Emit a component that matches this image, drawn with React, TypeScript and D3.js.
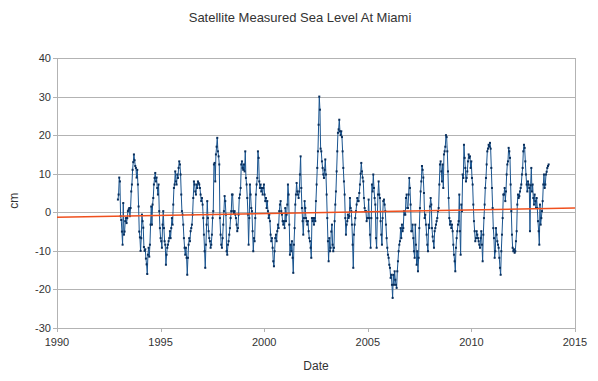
import React, { useEffect, useRef } from "react";
import * as d3 from "d3";

const TITLE = "Satellite Measured Sea Level At Miami";
const X_LABEL = "Date";
const Y_LABEL = "cm";
const X_TICKS = [1990, 1995, 2000, 2005, 2010, 2015];
const Y_TICKS = [-30, -20, -10, 0, 10, 20, 30, 40];
const START_YEAR = 1992.94;
const STEP_YEARS = 0.03218;
const TREND = [
  { year: 1990, value: -1.3 },
  { year: 2015, value: 1.1 },
];

const SEA_LEVEL_CM = [
  // 1993 - 1994.6
  3.3, 4.6, 9, 8, -1, -2, -5, -8.4, 2.4, -5.8, -5, -2.3, -1.5, -2.8, -1.5, 0.3, 0.7, 1.1, -1, 1.1,
  5.4, 7.2, 11, 13, 15, 13.5, 12, 11.5, 9, 11, 7.2, 1.5, -5, -6.5, -10, -6.7, -0.6, -2.3, -4, -9,
  -10, -9.6, -12, -13.5, -16, -11, -9.2, -11.5, -8.4, -3.2, 1.5,
  // 1994.6 - 1996.7
  -3.2, 2, 3.7, 7.2, 8.9, 10.2, 8, 9, 6.3, 4.6, 7.2, 0.3, -4.1, -6.7, -7.5, -9.2, -3.2, 0.3, -4.1, -7.5,
  -8.4, -13.6, -11, -9.2, -8.4, -7.5, -6.7, -4.9, -6.7, -4.1, -1.5, -3.2, 2, 6.3, 7.2, 10.6, 8, 7.2, 9.8, 8.9,
  11.5, 13.2, 12.4, 9.8, 4.6, 0.3, -0.6, -3.2, -6.7, -9.2, -11, -9.2, -11.8, -16.2, -11.8, -8.4, -6.7, -7.5, -4.9, -4.1,
  -3.2, -0.6, 3.7, 8, 7.2, 5.4,
  // 1996.7 - 1998.8
  4.6, 7.2, 6.3, 8, 7.6, 7.2, 6.3, 4.6, 2.9, 3.7, 2, -1.5, -5.8, -10.1, -14.4, -8.4, -3.2, 2.9, -1.5, -4.9,
  -6.7, -7.5, -9.2, -8.4, -5.8, -1.5, 0.3, 12.4, 12.8, 8, 15, 17, 19.3, 15.8, 14.5, 12.4, -1.5, -5.8, -8.4, -9.2,
  -6.7, -3.2, 0.3, 4.2, 2.9, -0.6, -10.1, -11, -8.4, -7.5, -5.8, -4.1, -1.5, 0.3, 4.6, 4.6, 0.3, -0.2, 0.3, -0.6,
  -1.5, -3.2, -4.9, -4.1, -0.6, 3.7,
  // 1998.8 - 2000.9
  4.6, 6.3, 12.4, 13.2, 11.5, 11, 12.4, 10.6, 15.8, 8.9, 7.2, 3.7, -0.6, -8.4, -1.5, 7.2, 4.6, 1.1, 0.3, -4.9,
  -10.1, -6.7, -7.5, -1.5, 4.6, 7.2, 8.9, 15.8, 14.1, 8, 6.3, 7.2, 5.4, 6.3, 4.6, 6.3, 7.2, 4.6, 2.9, 3.7,
  1.1, 2.9, 0.3, -1.5, -0.6, -2.3, -5.8, -7.5, -6.7, -9.2, -12.7, -14, -10.1, -6.7, -5.8, -7.5, -4.9, -3.2, -4.1, 0.3,
  2, 2.9, 0.3, -0.6, -2.3, -3.2,
  // 2001 - 2003.1
  -2.3, -4.1, 1.1, -2.3, -0.6, 2, 7.2, 4.6, -3.2, -11, -8.4, -10.1, -7.5, -11.8, -15.7, -8.4, -4.1, 2, 4.6, 7.6,
  5.4, 4.6, 3.7, 5.4, 9.8, 14.5, 6.3, 1.1, -2.3, -5.8, -1.5, 2.9, 1.1, -1.5, -2.3, -3.2, -2.3, -4.9, -6.7, -7.5,
  -9.2, -11.8, -1.5, -2.3, -1.5, -3.2, -1.5, -2.3, 2.9, 7.2, 11.5, 15.8, 22.7, 30, 26.6, 16.5, 15.8, 13.2, 11.5, 9.8,
  8.9, 11, 13.7, 9.8, 4.6, -1.5,
  // 2003.1 - 2005.2
  -7.5, -12.7, -6.7, -10.1, -9.2, -5, -3.2, -8.4, -10.1, -9.2, -2.3, 2, 5.4, 10.6, 15.8, 20.6, 21.5, 24, 21, 20,
  21, 19.5, 15.8, 11.5, 8, 4.6, -1.5, -5.8, -3.2, -2.3, -0.6, -1.5, -1, 3.7, 1.1, 0.3, -3.2, -8.4, -14.4, -5.8,
  -3.2, -1.5, 0.3, 2, 3.7, 2.9, 2.9, 5, 7.2, 10, 12.8, 10.6, 9, 8, 3.7, 1.1, 0.3, 0.3, -2.3, -1.5,
  -1.5, 3.3, -1.5, -5.8, -9.2, -1.5,
  // 2005.2 - 2007.3
  7.2, 5.4, 9.8, 6.3, 3.7, 2, -6.7, -9.2, -1.5, 4.6, 8, 4.6, 3.7, -2.3, -5.8, -8.4, -1.5, 2.9, 3.3, 2,
  0.3, -3.2, -6.7, -9.2, -11, -11.8, -13.6, -14.4, -17, -16.2, -18.8, -22.2, -16.2, -18.8, -15.3, -17.5, -18.8, -19.6, -15.3, -12.7,
  -10.1, -8.4, -7.5, -4.1, -6.7, -3.2, -4.9, -4.1, 0.3, -0.6, -0.6, 3.7, 4.6, 1.1, 1.1, 4.6, 8.9, 6.3, 2, -4.9,
  -4.9, -3.2, -6.7, -10.1, -11.8, -3.2,
  // 2007.3 - 2009.4
  -8.4, -13.6, -10.1, -15.3, -11.8, -4.1, 1.1, 5.4, 8, 12, 11, 9, 5, -1.5, -0.6, -3.2, -5.8, -8.4, -10.1, -3.2,
  -4.1, 1.5, 3.7, 2, -4.1, -6.3, -7.5, -9.2, -4.9, -4.1, -3.2, -2.3, -1.5, 0.3, 1.1, 7.2, 12.4, 13.2, 10.6, 8,
  12.4, 6.3, 15, 15.8, 17, 20, 19.5, 15.8, 10.6, 3.7, -1.5, -3.2, -2.3, -4.1, -3.2, -4.9, -8.4, -11, -12.7, -15.3,
  -9.2, -6.7, -4.9, -3.2, -2.3, 4.6,
  // 2009.4 - 2011.5
  -4.9, -11, 2, 0.3, 9.8, 8.9, 17.5, 14.1, 11.5, 8, 8.9, 10.6, 13.2, 15, 14.1, 14.5, 11.5, 13.2, 8.9, 7.2,
  2, -2.3, -4.9, -7.5, -6.7, -4.9, -5.8, -6.7, -7.5, -8.4, -9.2, -6.7, -4.9, -8.4, -12.7, -5.8, -1.5, 2, 6.3, 8.9,
  12.4, 15.8, 16.5, 17.5, 17, 18, 16.5, 11.5, 6.3, 1.1, -4.1, -6.7, -11.8, -10.1, -4.1, -5.8, -7.5, -8.4, -9.2, -11.8,
  -14.4, -16.2, -10.1, -5.8, -1.5, 4.6,
  // 2011.6 - 2013.7
  4.6, 6.3, 2.9, 5.4, 9.8, 12.4, 13.2, 16.7, 15.8, 14.1, 7.2, 0.3, -5.8, -9.2, -10.1, -9.6, -10.5, -10.1, -7.5, -4.9,
  2, 4.6, 3.7, 4.2, 5.4, 6.3, 7.2, 9.8, 11.5, 15.8, 17.5, 16.7, 13.2, 9.8, 7.2, 5.4, 8, 7.2, 6.3, -4.9,
  7, 11.5, 5.4, 7.2, 3.7, 2, 4.6, 2.9, 1.1, 3.7, 1.1, -2.3, -4.9, -8.4, 2, -3.2, -1.5, 0.3, 2.9, 7.2,
  9.8, 6.3, 7.2, 9.8, 10.5, 11.5, 12, 12.4,
];

const W = 598;
const H = 381;
const M = { left: 57, right: 23, top: 58, bottom: 53 };

export default function App() {
  const ref = useRef<SVGSVGElement | null>(null);

  useEffect(() => {
    const svg = d3.select(ref.current);
    svg.selectAll("*").remove();

    const x = d3.scaleLinear().domain([1990, 2015]).range([M.left, W - M.right]);
    const y = d3.scaleLinear().domain([-30, 40]).range([H - M.bottom, M.top]);
    const font = "'Liberation Sans', Arial, sans-serif";
    const grid = "#b3b3b3";
    const textCol = "#333333";

    // grid
    svg.append("g")
      .selectAll("line")
      .data(Y_TICKS)
      .join("line")
      .attr("x1", M.left - 4)
      .attr("x2", W - M.right)
      .attr("y1", (d) => Math.round(y(d)) + 0.5)
      .attr("y2", (d) => Math.round(y(d)) + 0.5)
      .attr("stroke", grid)
      .attr("stroke-width", 1);

    // axis lines
    svg.append("line")
      .attr("x1", M.left + 0.5).attr("x2", M.left + 0.5)
      .attr("y1", M.top).attr("y2", H - M.bottom + 4)
      .attr("stroke", grid);
    svg.append("line")
      .attr("x1", W - M.right + 0.5).attr("x2", W - M.right + 0.5)
      .attr("y1", M.top).attr("y2", H - M.bottom + 4)
      .attr("stroke", grid);
    svg.append("g")
      .selectAll("line")
      .data(X_TICKS)
      .join("line")
      .attr("x1", (d) => Math.round(x(d)) + 0.5)
      .attr("x2", (d) => Math.round(x(d)) + 0.5)
      .attr("y1", H - M.bottom)
      .attr("y2", H - M.bottom + 4)
      .attr("stroke", grid);

    // tick labels
    svg.append("g")
      .selectAll("text")
      .data(Y_TICKS)
      .join("text")
      .attr("x", M.left - 6)
      .attr("y", (d) => y(d) + 4)
      .attr("text-anchor", "end")
      .attr("font-family", font)
      .attr("font-size", 11)
      .attr("fill", textCol)
      .text((d) => String(d));
    svg.append("g")
      .selectAll("text")
      .data(X_TICKS)
      .join("text")
      .attr("x", (d) => x(d))
      .attr("y", H - M.bottom + 18)
      .attr("text-anchor", "middle")
      .attr("font-family", font)
      .attr("font-size", 11)
      .attr("fill", textCol)
      .text((d) => String(d));

    // title and axis labels
    svg.append("text")
      .attr("x", 300).attr("y", 22)
      .attr("text-anchor", "middle")
      .attr("font-family", font).attr("font-size", 13)
      .attr("fill", textCol)
      .text(TITLE);
    svg.append("text")
      .attr("x", (M.left + W - M.right) / 2).attr("y", 370)
      .attr("text-anchor", "middle")
      .attr("font-family", font).attr("font-size", 12)
      .attr("fill", textCol)
      .text(X_LABEL);
    svg.append("text")
      .attr("transform", `translate(18, ${y(3)}) rotate(-90)`)
      .attr("text-anchor", "middle")
      .attr("font-family", font).attr("font-size", 12)
      .attr("fill", textCol)
      .text(Y_LABEL);

    // data
    const data = SEA_LEVEL_CM.map((v, i) => ({ year: START_YEAR + i * STEP_YEARS, value: v }));
    const line = d3.line<{ year: number; value: number }>()
      .x((d) => x(d.year))
      .y((d) => y(d.value));
    svg.append("path")
      .datum(data)
      .attr("d", line)
      .attr("fill", "none")
      .attr("stroke", "#1a5590")
      .attr("stroke-width", 1);
    svg.append("g")
      .selectAll("rect")
      .data(data)
      .join("rect")
      .attr("x", (d) => x(d.year) - 1)
      .attr("y", (d) => y(d.value) - 1)
      .attr("width", 2)
      .attr("height", 2)
      .attr("fill", "#0a2f5c");

    // trend
    svg.append("path")
      .datum(TREND)
      .attr("d", line)
      .attr("fill", "none")
      .attr("stroke", "#f0501e")
      .attr("stroke-width", 1.6);
  }, []);

  return (
    <svg
      ref={ref}
      width={W}
      height={H}
      style={{ position: "absolute", left: 0, top: 0, background: "#ffffff" }}
    />
  );
}
